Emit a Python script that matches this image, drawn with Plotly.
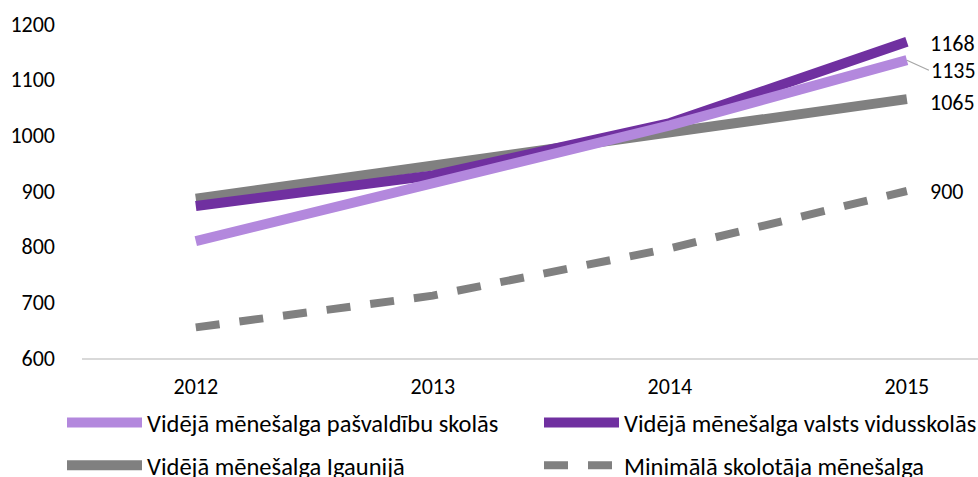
import plotly.graph_objects as go

years = ["2012", "2013", "2014", "2015"]
pasvaldibu = [810, 915, 1018, 1135]
valsts = [873, 928, 1022, 1168]
igaunija = [886, 945, 1003, 1065]
minimala = [655, 712, 797, 900]

names = [
    "Vidējā mēnešalga pašvaldību skolās",
    "Vidējā mēnešalga valsts vidusskolās",
    "Vidējā mēnešalga Igaunijā",
    "Minimālā skolotāja mēnešalga",
]
y_ticks = [600, 700, 800, 900, 1000, 1100, 1200]

FONT = "Carlito, Lato, sans-serif"
light = "#B388DD"
dark = "#7030A0"
gray = "#808080"

fig = go.Figure()
fig.add_trace(go.Scatter(x=years, y=igaunija, name=names[2], mode="lines",
                         line=dict(color=gray, width=10), legend="legend", legendgroup="c", legendrank=1000))
fig.add_trace(go.Scatter(x=years, y=valsts, name=names[1], mode="lines",
                         line=dict(color=dark, width=10), legend="legend2", legendgroup="b", legendrank=1))
fig.add_trace(go.Scatter(x=years, y=pasvaldibu, name=names[0], mode="lines",
                         line=dict(color=light, width=10), legend="legend", legendgroup="a", legendrank=1))
fig.add_trace(go.Scatter(x=years, y=minimala, name=names[3], mode="lines",
                         line=dict(color=gray, width=8, dash="24px,20px"), legend="legend2", legendgroup="d", legendrank=2000))

last = len(years) - 1
for val, ys in [(valsts[-1], -2), (igaunija[-1], -3), (minimala[-1], 0)]:
    fig.add_annotation(x=last, y=val, text=str(val), showarrow=False, xanchor="left",
                       xshift=21, yshift=ys, font=dict(family=FONT, size=22, color="#000"))
fig.add_annotation(x=last, y=pasvaldibu[-1], text=str(pasvaldibu[-1]), showarrow=True, arrowhead=0,
                   arrowcolor="#A6A6A6", arrowwidth=1.2, ax=22, ay=10, xanchor="left",
                   font=dict(family=FONT, size=22, color="#000"))

PLOT_L, PLOT_R, PLOT_T, PLOT_B = 82, 978, 24, 358
W = PLOT_R - PLOT_L
H = PLOT_B - PLOT_T

def px(xp):
    return (xp - PLOT_L) / W

def py(yp):
    return (PLOT_B - yp) / H

leg_common = dict(xref="paper", yref="paper", xanchor="left", yanchor="top",
                  orientation="v", itemwidth=75, tracegroupgap=8,
                  font=dict(family=FONT, size=24.5, color="#000"), bgcolor="rgba(0,0,0,0)",
                  borderwidth=0)

fig.update_layout(
    width=978, height=477,
    margin=dict(l=PLOT_L, r=978 - PLOT_R, t=PLOT_T, b=477 - PLOT_B, autoexpand=False),
    paper_bgcolor="white", plot_bgcolor="white",
    font=dict(family=FONT, size=22, color="#000"),
    showlegend=True,
    legend=dict(x=px(62), y=py(400), **leg_common),
    legend2=dict(x=px(539), y=py(400), **leg_common),
)
fig.update_xaxes(type="category", range=[-0.48, 3.3], showgrid=False, zeroline=False,
                 showline=True, linecolor="#D9D9D9", linewidth=1.5, ticks="", ticklabelstandoff=8,
                 tickfont=dict(family=FONT, size=22, color="#000"))
fig.update_yaxes(range=[600, 1200], tickvals=y_ticks, showgrid=False, zeroline=False,
                 showline=False, ticks="", ticklabelstandoff=26,
                 tickfont=dict(family=FONT, size=22, color="#000"))

fig.write_html("out.html", config={"displayModeBar": False},
               post_script="document.body.style.margin='0px';")
